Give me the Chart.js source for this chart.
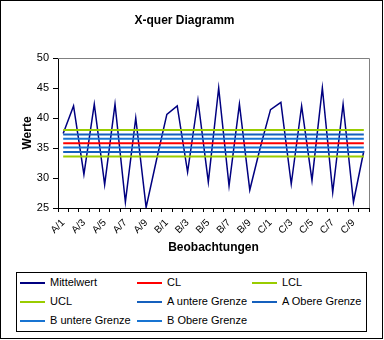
<!DOCTYPE html>
<html>
<head>
<meta charset="utf-8">
<script src="https://cdn.jsdelivr.net/npm/chart.js@4.4.0/dist/chart.umd.min.js"></script>
<style>
  html, body { margin: 0; padding: 0; background: #fff; }
  #wrap { position: relative; width: 384px; height: 340px; font-family: 'Liberation Sans', Arial, sans-serif; }
  #chart { position: absolute; left: 0; top: 0; }
  #frame { position: absolute; left: 0; top: 0; width: 383px; height: 339px; box-sizing: border-box; border: 1px solid #000; pointer-events: none; }
  #legend { position: absolute; left: 16px; top: 272px; width: 351px; height: 60px; box-sizing: border-box; border: 1px solid #000; background: #fff; }
  .item { position: absolute; height: 19px; line-height: 19px; font-size: 11px; color: #000; white-space: nowrap; }
  .item .swatch { display: inline-block; width: 25px; height: 2px; vertical-align: middle; margin-right: 5px; }
</style>
</head>
<body>
<div id="wrap">
  <canvas id="chart" width="384" height="340"></canvas>
  <div id="legend"></div>
  <div id="frame"></div>
</div>
<script>
// Beobachtungen (Stichproben A, B, C je 1..10)
const beobachtungen = [
  'A/1','A/2','A/3','A/4','A/5','A/6','A/7','A/8','A/9','A/10',
  'B/1','B/2','B/3','B/4','B/5','B/6','B/7','B/8','B/9','B/10',
  'C/1','C/2','C/3','C/4','C/5','C/6','C/7','C/8','C/9','C/10'
];

// Mittelwerte je Stichprobe
const mittelwert = [
  37.4, 42.0, 30.6, 42.3, 28.9, 42.3, 26.0, 40.0, 25.1, 33.0,
  40.6, 42.0, 31.0, 43.0, 29.3, 45.0, 28.7, 42.3, 28.0, 35.0,
  41.4, 42.6, 29.0, 42.0, 29.6, 45.0, 27.6, 42.3, 26.0, 34.5
];

// Eingriffs- und Zonengrenzen
const grenzNamen = ['CL', 'LCL', 'UCL', 'A untere Grenze', 'A Obere Grenze', 'B untere Grenze', 'B Obere Grenze'];
const grenzWerte = [35.8, 33.6, 38.0, 34.33, 37.27, 35.07, 36.53];

const yTicks = [25, 30, 35, 40, 45, 50];

const grenzFarben = ['#ff0000', '#99cc00', '#99cc00', '#1560bd', '#1560bd', '#1874d2', '#1874d2'];
const schrift = "'Liberation Sans', Arial, sans-serif";

const datasets = [{
  label: 'Mittelwert',
  data: mittelwert,
  borderColor: '#000080',
  backgroundColor: '#000080',
  borderWidth: 1.5,
  pointRadius: 0,
  tension: 0,
  order: 1
}];

for (let i = 0; i < grenzNamen.length; i++) {
  datasets.push({
    label: grenzNamen[i],
    // waagrechte Linie von der ersten bis zur letzten Beobachtung
    data: [
      { x: beobachtungen[0], y: grenzWerte[i] },
      { x: beobachtungen[beobachtungen.length - 1], y: grenzWerte[i] }
    ],
    borderColor: grenzFarben[i],
    backgroundColor: grenzFarben[i],
    borderWidth: 2,
    pointRadius: 0,
    order: 0
  });
}

// grauer Rahmen oben und rechts um die Zeichenfläche
const plotRahmen = {
  id: 'plotRahmen',
  beforeDatasetsDraw(chart) {
    const { ctx, chartArea: a } = chart;
    ctx.save();
    ctx.strokeStyle = '#808080';
    ctx.lineWidth = 1;
    ctx.beginPath();
    ctx.moveTo(a.left, a.top + 0.5);
    ctx.lineTo(a.right + 0.5, a.top + 0.5);
    ctx.lineTo(a.right + 0.5, a.bottom);
    ctx.stroke();
    ctx.restore();
  }
};

const chart = new Chart(document.getElementById('chart'), {
  type: 'line',
  data: { labels: beobachtungen, datasets: datasets },
  plugins: [plotRahmen],
  options: {
    responsive: false,
    animation: false,
    devicePixelRatio: 1,
    layout: { padding: { left: 0, right: 15, top: 0, bottom: 85 } },
    plugins: {
      legend: { display: false },
      tooltip: { enabled: false },
      title: {
        display: true,
        text: 'X-quer Diagramm',
        color: '#000',
        font: { family: schrift, size: 12, weight: 'bold' },
        padding: { top: 13, bottom: 30.6 }
      }
    },
    scales: {
      x: {
        offset: true,
        grid: { offset: true, drawOnChartArea: false, color: '#000', tickLength: 4 },
        border: { color: '#000', width: 1 },
        ticks: {
          autoSkip: false,
          minRotation: 45,
          maxRotation: 45,
          padding: 5,
          color: '#000',
          font: { family: schrift, size: 10 },
          callback: function (v, i) { return i % 2 === 0 ? beobachtungen[i] : ''; }
        },
        title: {
          display: true,
          text: 'Beobachtungen',
          color: '#000',
          font: { family: schrift, size: 12, weight: 'bold' },
          padding: 0
        },
        afterFit: function (scale) { scale.height = 47; }
      },
      y: {
        min: yTicks[0],
        max: yTicks[yTicks.length - 1],
        grid: { drawOnChartArea: false, color: '#000', tickLength: 5 },
        border: { color: '#000', width: 1 },
        ticks: {
          stepSize: 5,
          padding: 4,
          color: '#000',
          font: { family: schrift, size: 11 }
        },
        title: {
          display: true,
          text: 'Werte',
          color: '#000',
          font: { family: schrift, size: 12, weight: 'bold' },
          padding: { top: 20, bottom: 0 }
        },
        afterFit: function (scale) { scale.width = 58; }
      }
    }
  }
});

// Legende in drei Spalten
const spaltenX = [3, 120, 235];
const legende = document.getElementById('legend');
chart.data.datasets.forEach(function (ds, i) {
  const item = document.createElement('div');
  item.className = 'item';
  item.style.left = spaltenX[i % 3] + 'px';
  item.style.top = (Math.floor(i / 3) * 19) + 'px';
  const swatch = document.createElement('span');
  swatch.className = 'swatch';
  swatch.style.background = ds.borderColor;
  item.appendChild(swatch);
  item.appendChild(document.createTextNode(ds.label));
  legende.appendChild(item);
});
</script>
</body>
</html>
